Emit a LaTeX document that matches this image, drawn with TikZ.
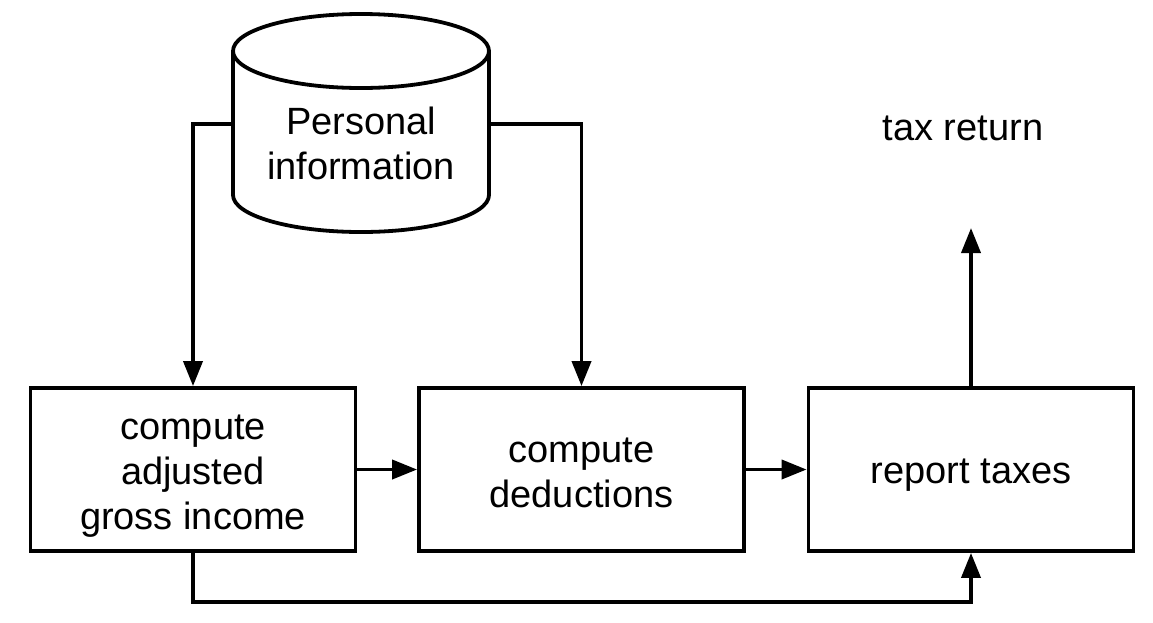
\documentclass[tikz,border=0pt]{standalone}
\usepackage{fontspec}
\setmainfont{Liberation Sans}
\usetikzlibrary{arrows.meta}
\begin{document}
\begin{tikzpicture}[x=1pt,y=-1pt,
  every node/.style={font=\fontsize{38}{45}\selectfont, align=center},
  procbox/.style={draw, line width=3.8pt, minimum width=325pt, minimum height=163pt, inner sep=0pt},
  conn/.style={line width=3.8pt},
  arr/.style={conn, -{Triangle[length=25pt,width=19pt]}}]
\useasboundingbox (0,0) rectangle (1153,622);
\fill[white] (0,0) rectangle (1153,622);
% cylinder
\draw[line width=3.8pt, fill=white] (233,51) -- (233,195) arc[start angle=180,end angle=0,x radius=128,y radius=37] -- (489,51) arc[start angle=0,end angle=-180,x radius=128,y radius=37] -- cycle;
\draw[line width=3.8pt] (233,51) arc[start angle=180,end angle=0,x radius=128,y radius=37];
\node (db) at (361,143) {Personal\\information};
\coordinate (dbL) at (233,124);
\coordinate (dbR) at (489,124);
\node[procbox] (agi) at (193,469.5) {};
\node[procbox] (ded) at (581.5,469.5) {};
\node[procbox] (rep) at (971,469.5) {};
\node (agiT) at (193,476) {compute\\adjusted\\gross income};
\node (dedT) at (581.5,473) {compute\\deductions};
\node (repT) at (971,475) {report taxes};
\node (tr) at (963,128) {tax return};
\coordinate (trEnd) at (971,228);
\draw[arr] (dbL) -| (agi.north);
\draw[arr] (dbR) -| (ded.north);
\draw[arr] (agi) -- (ded);
\draw[arr] (ded) -- (rep);
\draw[arr] (rep.north) -- (trEnd);
\draw[arr] (agi.south) |- (580,602) -| (rep.south);
\end{tikzpicture}
\end{document}
